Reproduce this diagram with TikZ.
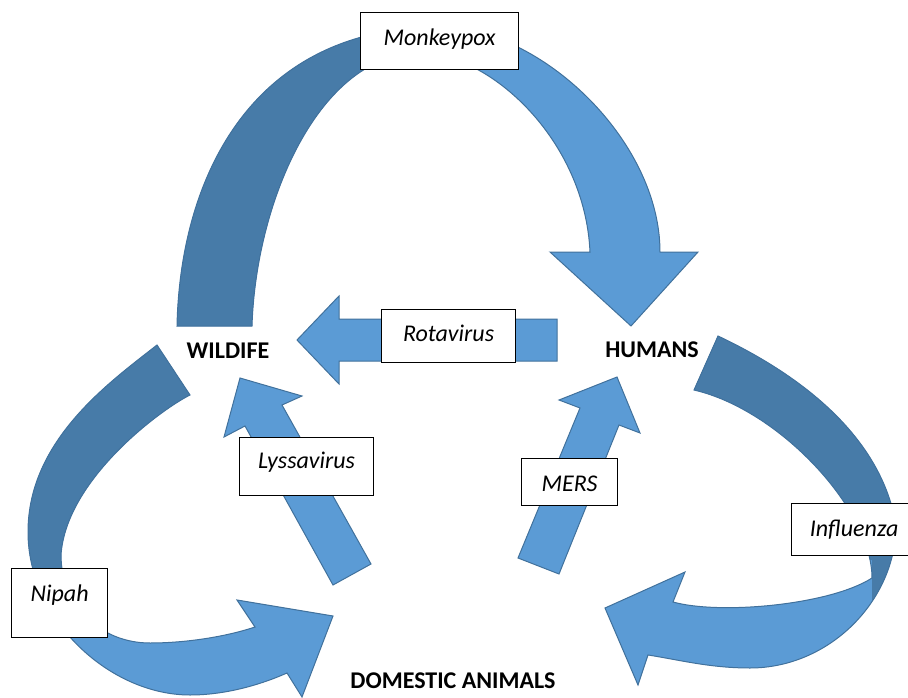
\documentclass[tikz,border=0pt]{standalone}
\usepackage{fontspec}
\setmainfont{Carlito}
\definecolor{lightblue}{RGB}{91,155,213}
\definecolor{darkblue}{RGB}{71,123,168}
\definecolor{edgeblue}{RGB}{65,113,156}
\begin{document}
\begin{tikzpicture}[x=1pt,y=-1pt,
  vbox/.style={draw=black, fill=white, line width=1.2pt, inner sep=0pt,
    font=\itshape\fontsize{24}{28}\selectfont, align=center, anchor=north west},
  lab/.style={font=\bfseries\fontsize{24}{28}\selectfont, inner sep=0pt, anchor=base},
  ribbonfill/.style={fill=lightblue},
  ribbonedge/.style={draw=edgeblue, line width=1pt, line join=miter}]
\useasboundingbox (0,0) rectangle (908,698);

% ---------- top curved arrow (Monkeypox) ----------
\path[save path=\pathtop]
  (177,326) .. controls (180,180) and (250,27) .. (440,27)
  .. controls (540,27) and (660,140) .. (660,252)
  -- (698,252) -- (631,326) -- (550,252) -- (590,252)
  .. controls (585,140) and (490,53) .. (420,53)
  .. controls (320,53) and (256,200) .. (252,326)
  -- cycle;
\fill[ribbonfill, use path=\pathtop];
\begin{scope}
  \clip (0,0) rectangle (430,340);
  \fill[darkblue, use path=\pathtop];
\end{scope}
\draw[ribbonedge, use path=\pathtop];

% ---------- left curved arrow (Nipah) ----------
\path[save path=\pathleft]
  (157,345) .. controls (110,382) and (28,440) .. (28,532)
  .. controls (28,620) and (110,695) .. (190,695)
  .. controls (225,695) and (260,685) .. (287,673)
  -- (302,697) -- (333,616) -- (237,600) -- (255,627)
  .. controls (225,637) and (185,643) .. (150,643)
  .. controls (100,643) and (61,605) .. (61,555)
  .. controls (66,480) and (160,410) .. (190,395)
  -- cycle;
\fill[ribbonfill, use path=\pathleft];
\begin{scope}
  \clip (0,300) rectangle (250,600);
  \fill[darkblue, use path=\pathleft];
\end{scope}
\draw[ribbonedge, use path=\pathleft];

% ---------- right curved arrow (Influenza) ----------
\path[save path=\pathright]
  (718,336) .. controls (790,370) and (880,430) .. (896,525)
  .. controls (896,600) and (830,668) .. (750,668)
  .. controls (710,668) and (680,660) .. (648,655)
  -- (638,685) -- (605,608) -- (685,572) -- (673,602)
  .. controls (720,615) and (830,605) .. (872,578)
  .. controls (872,510) and (780,410) .. (694,390)
  -- cycle;
\fill[ribbonfill, use path=\pathright];
\begin{scope}
  \clip (600,300) -- (950,300) -- (950,700) -- (872,700) -- (872,560) -- (600,560) -- cycle;
  \fill[darkblue, use path=\pathright];
\end{scope}
\draw[ribbonedge, use path=\pathright];

% ---------- straight block arrows ----------
\filldraw[ribbonfill, ribbonedge] (557,319) -- (339,319) -- (339,296) -- (297,340) -- (339,384) -- (339,361) -- (557,361) -- cycle;
\filldraw[ribbonfill, ribbonedge] (371,564) -- (282,405) -- (302,396) -- (240,378) -- (224,437) -- (245,426) -- (333,585) -- cycle;
\filldraw[ribbonfill, ribbonedge] (518,558) -- (580,408) -- (559,400) -- (617,377) -- (640,433) -- (619,425) -- (559,574) -- cycle;

% ---------- labelled boxes ----------
\node[vbox, text width=158pt, text height=33pt, text depth=24pt] (monkey) at (360,12) {Monkeypox};
\node[vbox, text width=134pt, text height=32pt, text depth=21pt] (rota) at (381,309) {Rotavirus};
\node[vbox, text width=134pt, text height=31pt, text depth=27pt] (lyssa) at (239,437) {Lyssavirus};
\node[vbox, text width=96pt, text height=33pt, text depth=14pt] (mers) at (521,458) {MERS};
\node[vbox, text width=96pt, text height=33pt, text depth=36pt] (nipah) at (11,568) {Nipah};
\node[vbox, text width=125pt, text height=33pt, text depth=19pt] (influ) at (791,503) {Influenza};

% ---------- host labels ----------
\node[lab] (wild) at (228,358) {WILDIFE};
\node[lab] (hum) at (652,357) {HUMANS};
\node[lab] (dom) at (453,688) {DOMESTIC ANIMALS};
\end{tikzpicture}
\end{document}
